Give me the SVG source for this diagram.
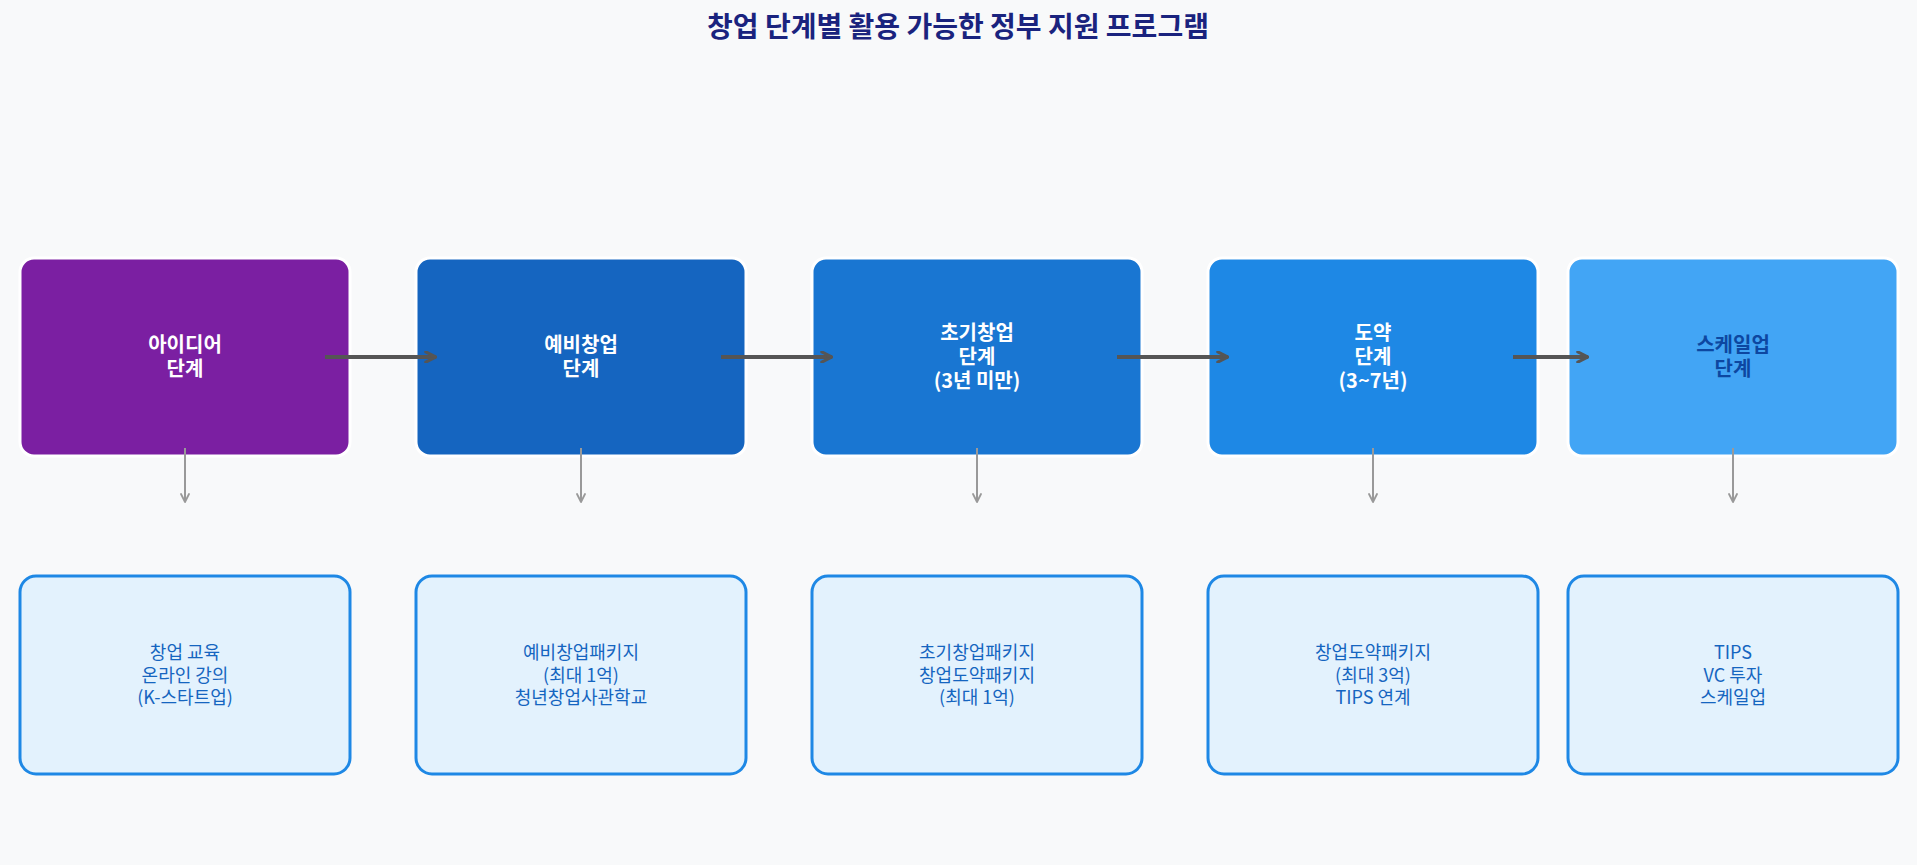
<svg xmlns="http://www.w3.org/2000/svg" width="1917" height="865" viewBox="0 0 1917 865">
  <style>
    .title { font-family: "Noto Sans CJK KR", "Noto Sans", sans-serif; font-size: 28px; font-weight: 700; fill: #1A237E; }
    .stage { stroke: #FFFFFF; stroke-width: 3; }
    .stext { font-family: "Noto Sans CJK KR", "Noto Sans", sans-serif; font-size: 20px; font-weight: 700; fill: #FFFFFF; text-anchor: middle; }
    .dark { fill: #0D47A1; }
    .prog { fill: #E3F2FD; stroke: #1E88E5; stroke-width: 3; }
    .ptext { font-family: "Noto Sans CJK KR", "Noto Sans", sans-serif; font-size: 18px; fill: #1565C0; text-anchor: middle; }
    .flow { stroke: #555555; stroke-width: 4; fill: none; }
    .down { stroke: #999999; stroke-width: 2; fill: none; }
  </style>
  <defs>
    <marker id="ah" viewBox="0 0 10 10" refX="9" refY="5" markerWidth="3.2" markerHeight="3.2" orient="auto" markerUnits="strokeWidth">
      <path d="M1,1 L9,5 L1,9" fill="none" stroke="#555555" stroke-width="2.4" stroke-linecap="round" stroke-linejoin="round"/>
    </marker>
    <marker id="dh" viewBox="0 0 10 10" refX="9" refY="5" markerWidth="5" markerHeight="5" orient="auto" markerUnits="strokeWidth">
      <path d="M1,1 L9,5 L1,9" fill="none" stroke="#999999" stroke-width="1.8" stroke-linecap="round" stroke-linejoin="round"/>
    </marker>
  </defs>
  <rect x="0" y="0" width="1917" height="865" fill="#F8F9FA"/>
  <text class="title" x="958" y="37" text-anchor="middle">창업 단계별 활용 가능한 정부 지원 프로그램</text>

  <g id="stage-idea">
    <rect class="stage" x="20" y="258" width="330" height="198" rx="14" fill="#7B1FA2"/>
    <text class="stext"><tspan x="185" y="352">아이디어</tspan><tspan x="185" y="376">단계</tspan></text>
  </g>
  <g id="stage-pre">
    <rect class="stage" x="416" y="258" width="330" height="198" rx="14" fill="#1565C0"/>
    <text class="stext"><tspan x="581" y="352">예비창업</tspan><tspan x="581" y="376">단계</tspan></text>
  </g>
  <g id="stage-early">
    <rect class="stage" x="812" y="258" width="330" height="198" rx="14" fill="#1976D2"/>
    <text class="stext"><tspan x="977" y="340">초기창업</tspan><tspan x="977" y="364">단계</tspan><tspan x="977" y="388">(3년 미만)</tspan></text>
  </g>
  <g id="stage-leap">
    <rect class="stage" x="1208" y="258" width="330" height="198" rx="14" fill="#1E88E5"/>
    <text class="stext"><tspan x="1373" y="340">도약</tspan><tspan x="1373" y="364">단계</tspan><tspan x="1373" y="388">(3~7년)</tspan></text>
  </g>
  <g id="stage-scaleup">
    <rect class="stage" x="1568" y="258" width="330" height="198" rx="14" fill="#42A5F5"/>
    <text class="stext dark"><tspan x="1733" y="352">스케일업</tspan><tspan x="1733" y="376">단계</tspan></text>
  </g>

  <g id="prog-idea">
    <rect class="prog" x="20" y="576" width="330" height="198" rx="16"/>
    <text class="ptext"><tspan x="185" y="659">창업 교육</tspan><tspan x="185" y="681.5">온라인 강의</tspan><tspan x="185" y="704">(K-스타트업)</tspan></text>
  </g>
  <g id="prog-pre">
    <rect class="prog" x="416" y="576" width="330" height="198" rx="16"/>
    <text class="ptext"><tspan x="581" y="659">예비창업패키지</tspan><tspan x="581" y="681.5">(최대 1억)</tspan><tspan x="581" y="704">청년창업사관학교</tspan></text>
  </g>
  <g id="prog-early">
    <rect class="prog" x="812" y="576" width="330" height="198" rx="16"/>
    <text class="ptext"><tspan x="977" y="659">초기창업패키지</tspan><tspan x="977" y="681.5">창업도약패키지</tspan><tspan x="977" y="704">(최대 1억)</tspan></text>
  </g>
  <g id="prog-leap">
    <rect class="prog" x="1208" y="576" width="330" height="198" rx="16"/>
    <text class="ptext"><tspan x="1373" y="659">창업도약패키지</tspan><tspan x="1373" y="681.5">(최대 3억)</tspan><tspan x="1373" y="704">TIPS 연계</tspan></text>
  </g>
  <g id="prog-scaleup">
    <rect class="prog" x="1568" y="576" width="330" height="198" rx="16"/>
    <text class="ptext"><tspan x="1733" y="659">TIPS</tspan><tspan x="1733" y="681.5">VC 투자</tspan><tspan x="1733" y="704">스케일업</tspan></text>
  </g>

  <g id="connectors">
    <line class="flow" x1="325" y1="357" x2="436" y2="357" marker-end="url(#ah)"/>
    <line class="flow" x1="721" y1="357" x2="832" y2="357" marker-end="url(#ah)"/>
    <line class="flow" x1="1117" y1="357" x2="1228" y2="357" marker-end="url(#ah)"/>
    <line class="flow" x1="1513" y1="357" x2="1588" y2="357" marker-end="url(#ah)"/>
    <line class="down" x1="185" y1="448" x2="185" y2="502" marker-end="url(#dh)"/>
    <line class="down" x1="581" y1="448" x2="581" y2="502" marker-end="url(#dh)"/>
    <line class="down" x1="977" y1="448" x2="977" y2="502" marker-end="url(#dh)"/>
    <line class="down" x1="1373" y1="448" x2="1373" y2="502" marker-end="url(#dh)"/>
    <line class="down" x1="1733" y1="448" x2="1733" y2="502" marker-end="url(#dh)"/>
  </g>
</svg>
